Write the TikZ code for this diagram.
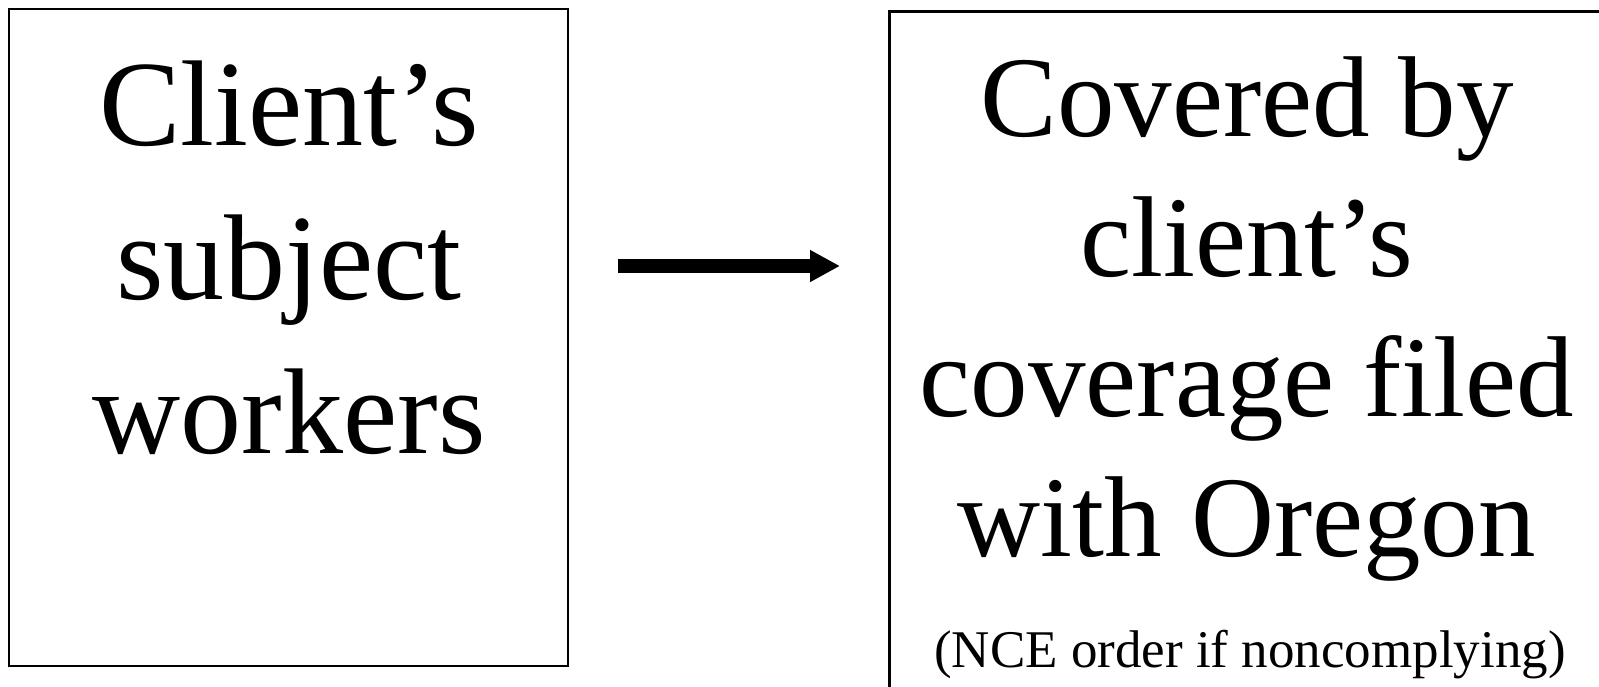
\documentclass[tikz,border=0pt]{standalone}
\usepackage{fontspec}
\setmainfont{Liberation Serif}
\usetikzlibrary{positioning,arrows.meta}
\tikzset{>=stealth}

\begin{document}
\begin{tikzpicture}[x=1pt,y=-1pt,
  frame/.style={draw,line width=2.5pt,inner sep=0pt},
  big/.style={align=center,inner sep=0pt},
  small/.style={font=\fontsize{53}{60}\selectfont,inner sep=0pt},
  flow/.style={-{Triangle[length=30pt,width=30pt]},line width=14pt}]
\useasboundingbox (0,0) rectangle (1599,686);
\clip (0,0) rectangle (1599,686);
\node[frame,minimum width=559pt,minimum height=657pt] (client) at (288.5,337.5) {};
\node[frame,minimum width=760pt,minimum height=720pt,anchor=north west] (covered) at (888,10) {};
\node[big,font=\fontsize{122}{154}\selectfont,anchor=base] (workers) at (289,453) {Client’s\\subject\\workers};
\node[big,font=\fontsize{115}{140}\selectfont,anchor=base] (filed) at (1247,556) {Covered by\\client’s\\coverage filed\\with Oregon};
\node[small,anchor=base] (nce) at (1250,667) {(NCE order if noncomplying)};
\coordinate (tail) at ([xshift=49pt,yshift=71.5pt]client.east);
\coordinate (head) at (840,266);
\draw[flow] (tail) -- (head);
\end{tikzpicture}
\end{document}
